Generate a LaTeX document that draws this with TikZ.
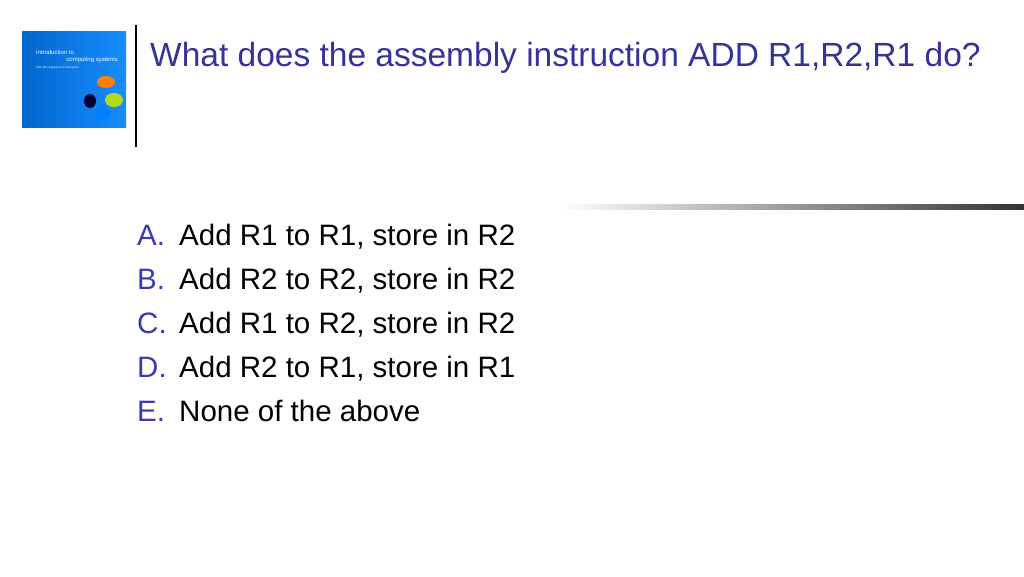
\documentclass[tikz,border=0pt]{standalone}
\usepackage{fontspec}
\setmainfont{Liberation Sans}
\begin{document}
\begin{tikzpicture}[x=1pt,y=-1pt,
  opt/.style={anchor=base west,font=\fontsize{29.5}{34}\selectfont,inner sep=0},
  lett/.style={anchor=base west,font=\fontsize{29.5}{34}\selectfont,inner sep=0,text=optblue}]
\definecolor{optblue}{HTML}{3A3AB0}
\definecolor{titleblue}{HTML}{333399}
\useasboundingbox[fill=white] (0,0) rectangle (1024,576);
% book cover
\shade[left color=blue!50!cyan!80!black, right color=cyan!50!blue!90] (22,31) rectangle (126,127);
\node[font=\fontsize{6}{6}\selectfont,text=white,anchor=west,inner sep=0] (bt1) at (36,52) {introduction to};
\node[font=\fontsize{6}{6}\selectfont,text=white,anchor=east,inner sep=0] (bt2) at (118,60) {computing systems};
\node[font=\fontsize{3}{3}\selectfont,text=white!80,anchor=west,inner sep=0] (bt3) at (36,68) {from bits \& gates to C \& beyond};
\fill[orange] (106,82) ellipse (9 and 6);
\fill[yellow!70!green] (114,100) ellipse (9 and 7);
\fill[black!80!blue] (90,101) ellipse (6 and 7);
\fill[blue!50!cyan] (102,114) ellipse (8 and 6);
% vertical rule
\draw[line width=2.5pt] (136,25) -- (136,147);
\node[anchor=base west,inner sep=0,font=\fontsize{33.5}{40}\selectfont,text=titleblue] (title) at (150,66) {What does the assembly instruction ADD R1,R2,R1 do?};
% gradient line
\shade[left color=white,right color=black!80] (560,204) rectangle (1024,209);
% options
\foreach \l/\t/\y [count=\i] in {A./Add R1 to R1{,} store in R2/245,B./Add R2 to R2{,} store in R2/289,C./Add R1 to R2{,} store in R2/333,D./Add R2 to R1{,} store in R1/377,E./None of the above/421}{
  \node[lett] (l\i) at (137,\y) {\l};
  \node[opt] (o\i) at (179,\y) {\t};
}
\end{tikzpicture}
\end{document}
